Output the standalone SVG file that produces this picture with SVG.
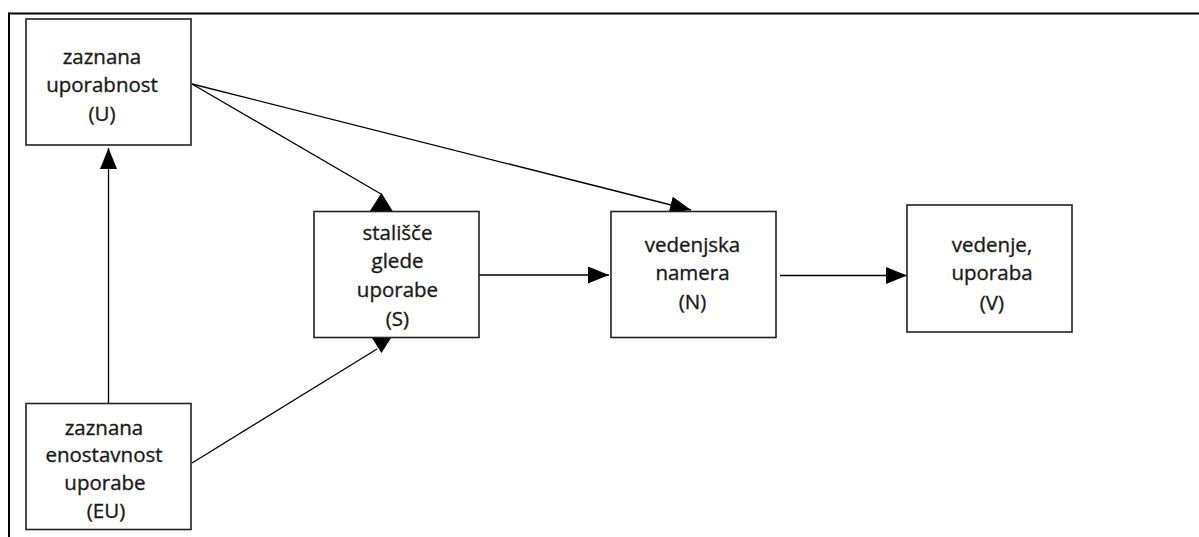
<svg xmlns="http://www.w3.org/2000/svg" width="1199" height="537" viewBox="0 0 1199 537">
<style>
.box{fill:#fff;stroke:#222;stroke-width:1.6}
.t{font-family:"Open Sans","Liberation Sans",sans-serif;font-size:20.5px;fill:#1a1a1a;stroke:#1a1a1a;stroke-width:0.35;text-anchor:middle}
.ln{stroke:#000;stroke-width:1.3;fill:none}
.ah{fill:#000}
</style>
<defs>
<marker id="arr" markerWidth="22" markerHeight="18" refX="21" refY="8.5" orient="auto" markerUnits="userSpaceOnUse">
<path d="M0,0 L21,8.5 L0,17 Z" fill="#000"/>
</marker>
</defs>
<rect width="1199" height="537" fill="#fff"/>
<g id="frame">
<line x1="8" y1="13.5" x2="1199" y2="13.5" stroke="#000" stroke-width="2"/>
<line x1="9" y1="12.5" x2="9" y2="537" stroke="#000" stroke-width="2"/>
</g>
<g id="connectors">
<line class="ln" x1="108.5" y1="403" x2="108.5" y2="148" marker-end="url(#arr)"/>
<line class="ln" x1="192" y1="84" x2="381" y2="194"/>
<polygon class="ah" points="381.5,193 369.5,211.5 393,211.5"/>
<line class="ln" x1="192" y1="84" x2="691" y2="210" marker-end="url(#arr)"/>
<line class="ln" x1="192" y1="463" x2="377" y2="349"/>
<polygon class="ah" points="372,338 391,338 381.5,353"/>
<line class="ln" x1="479" y1="275" x2="609" y2="275" marker-end="url(#arr)"/>
<line class="ln" x1="780" y1="275.5" x2="907" y2="275.5" marker-end="url(#arr)"/>
</g>
<g id="node-u">
<rect class="box" x="26" y="19" width="165" height="126"/>
<text class="t" x="102" y="64">zaznana</text>
<text class="t" x="102" y="92">uporabnost</text>
<text class="t" x="102" y="121">(U)</text>
</g>
<g id="node-eu">
<rect class="box" x="26" y="403.5" width="165" height="126"/>
<text class="t" x="104" y="435">zaznana</text>
<text class="t" x="104" y="462">enostavnost</text>
<text class="t" x="105" y="490">uporabe</text>
<text class="t" x="106" y="518">(EU)</text>
</g>
<g id="node-s">
<rect class="box" x="314" y="211.5" width="165" height="126"/>
<text class="t" x="397.5" y="240">stališče</text>
<text class="t" x="397.5" y="268">glede</text>
<text class="t" x="397.5" y="297">uporabe</text>
<text class="t" x="397.5" y="326">(S)</text>
</g>
<g id="node-n">
<rect class="box" x="611" y="211.5" width="165" height="126"/>
<text class="t" x="692.5" y="252">vedenjska</text>
<text class="t" x="692.5" y="280">namera</text>
<text class="t" x="692.5" y="309">(N)</text>
</g>
<g id="node-v">
<rect class="box" x="907" y="205" width="165" height="127"/>
<text class="t" x="992" y="252">vedenje,</text>
<text class="t" x="992" y="280">uporaba</text>
<text class="t" x="992" y="310">(V)</text>
</g>
</svg>
